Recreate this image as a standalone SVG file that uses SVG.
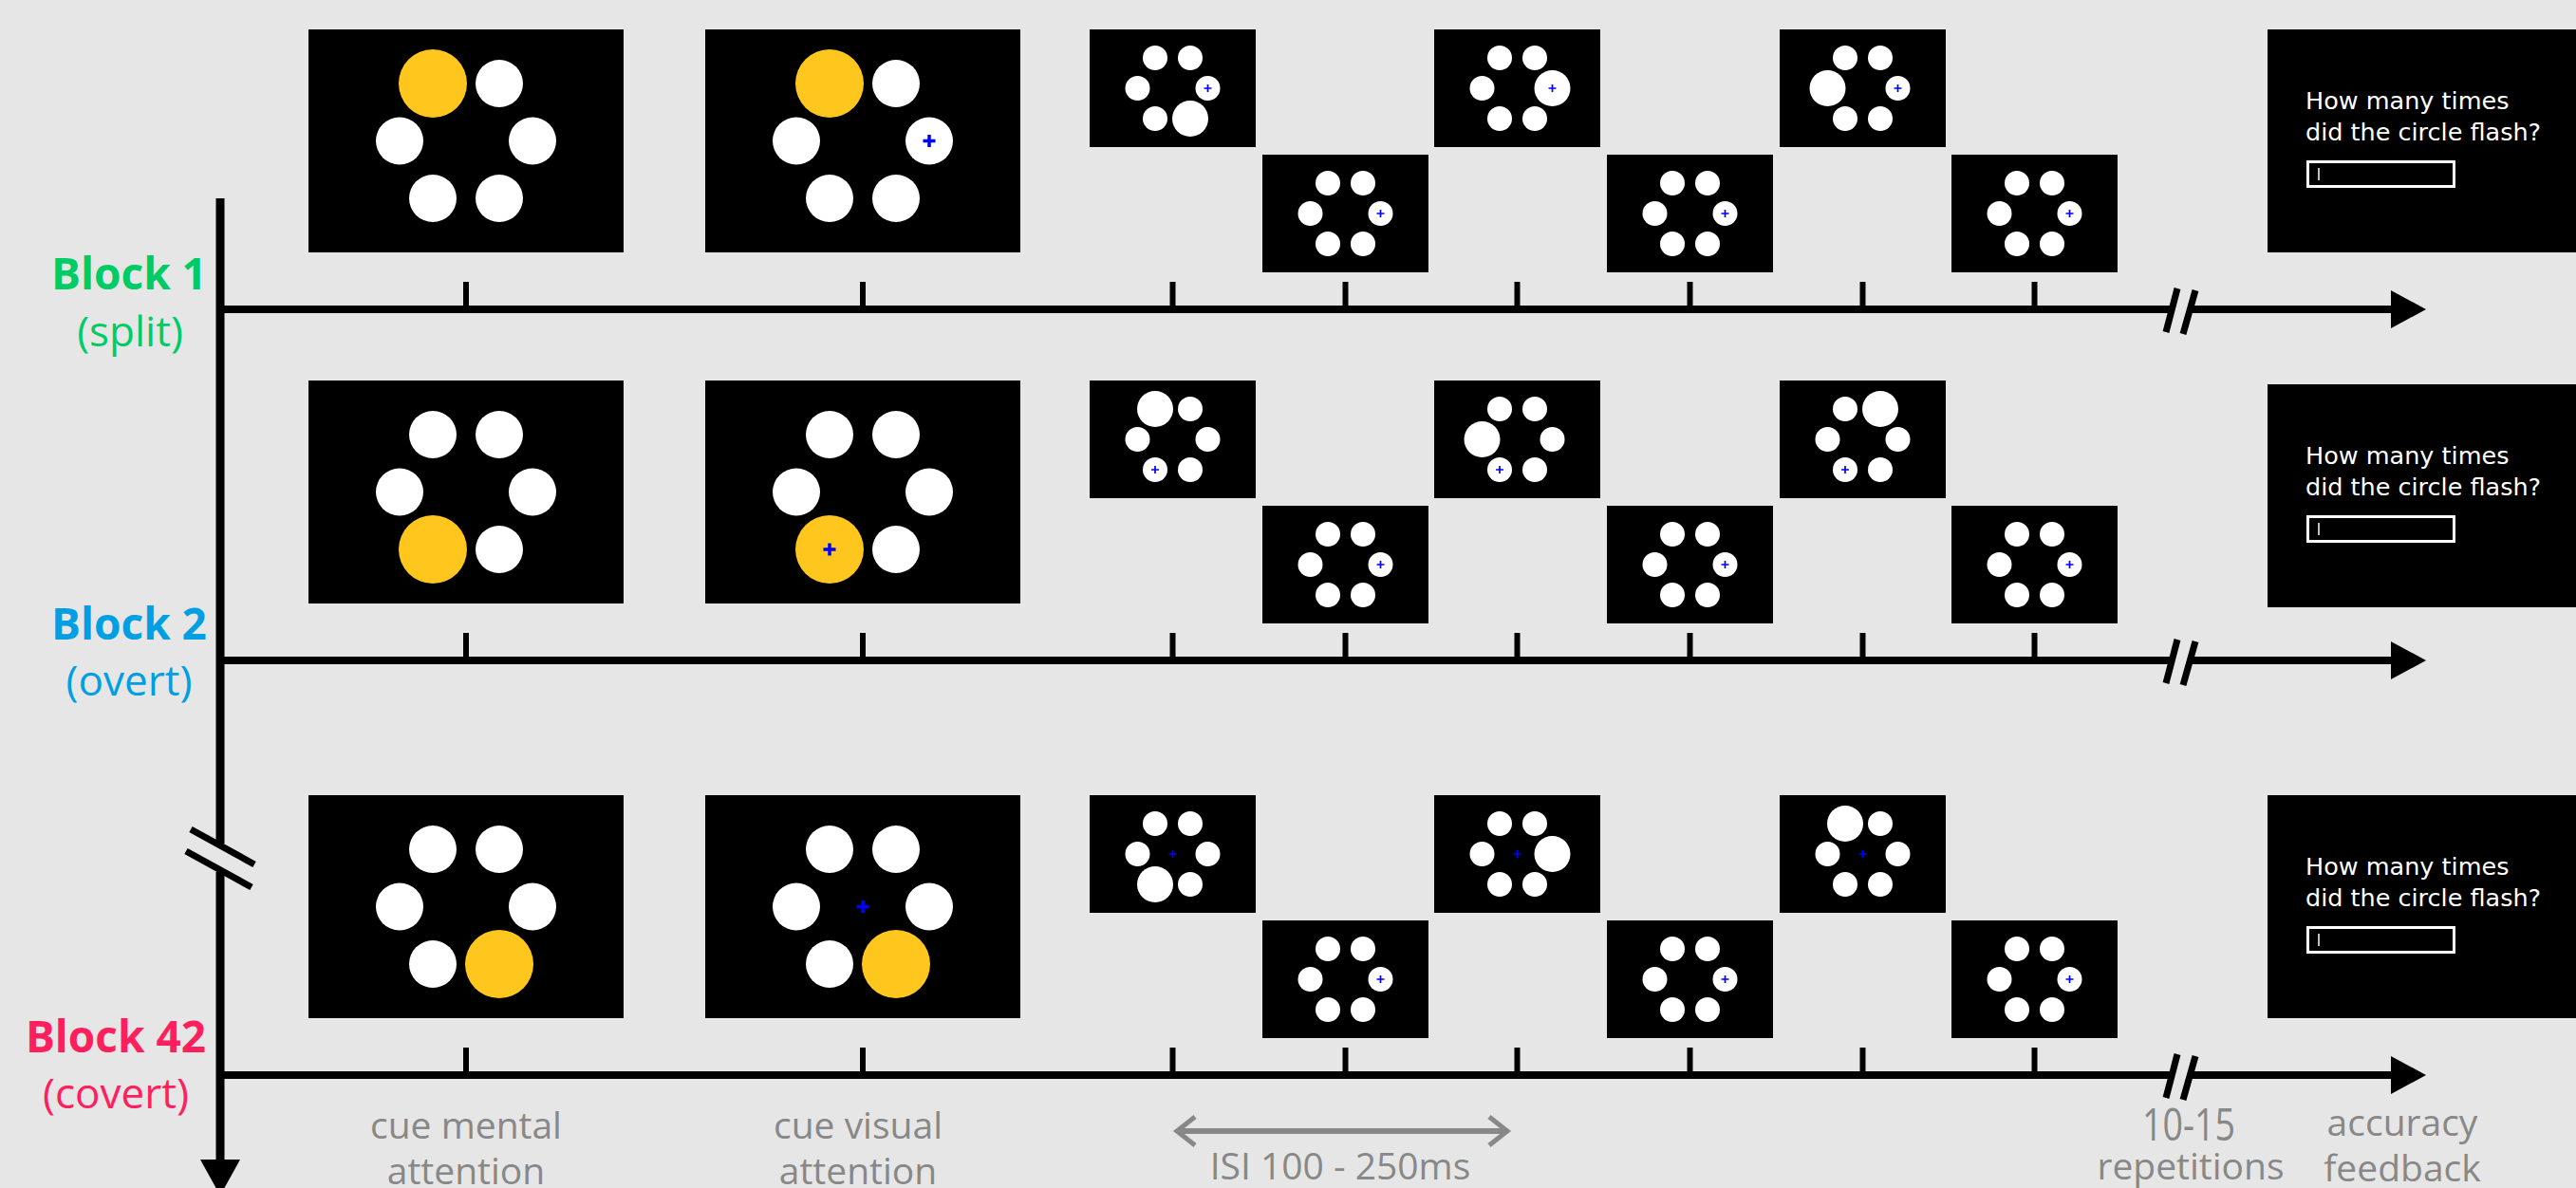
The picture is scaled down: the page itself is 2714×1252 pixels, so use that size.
<svg xmlns="http://www.w3.org/2000/svg" width="2714" height="1252" viewBox="0 0 2714 1252">
<style>
.scr{fill:#000}
.c{fill:#fff}
.y{fill:#ffc61e}
.ax{stroke:#000;stroke-width:8;fill:none}
.tk{stroke:#000;stroke-width:6}
.sl{stroke:#000;stroke-width:7}
.xb{stroke:#0000ff;stroke-width:3.5}
.xs{stroke:#0000ff;stroke-width:1.7}
.q{font-family:"DejaVu Sans",sans-serif;font-size:25.5px;fill:#fff}
.lbl{font-family:"Open Sans",sans-serif;font-size:39px;fill:#888;text-anchor:middle}
.bt{font-family:"Open Sans",sans-serif;font-size:46px;font-weight:bold;text-anchor:middle}
.bs{font-family:"Open Sans",sans-serif;font-size:44px;text-anchor:middle}
</style>
<rect width="2714" height="1252" fill="#e6e6e6"/>

<!-- connectors: axes, ticks, breaks -->
<g id="connectors">
  <line class="ax" x1="232" y1="209" x2="232" y2="889" style="stroke-width:9"/>
  <line class="ax" x1="232" y1="919" x2="232" y2="1226" style="stroke-width:9"/>
  <line class="sl" x1="201" y1="874" x2="268" y2="911"/>
  <line class="sl" x1="196" y1="897" x2="265" y2="935"/>
  <polygon points="211,1222 253,1222 232,1260" fill="#000"/>
  <g id="axis1">
    <line class="ax" x1="228" y1="326" x2="2288" y2="326"/>
    <line class="ax" x1="2307" y1="326" x2="2522" y2="326"/>
    <polygon points="2519,306 2556,326 2519,346" fill="#000"/>
    <line class="sl" x1="2294" y1="304" x2="2282" y2="350"/>
    <line class="sl" x1="2313" y1="306" x2="2300" y2="352"/>
    <g class="tk">
      <line x1="491" y1="297" x2="491" y2="326"/><line x1="909" y1="297" x2="909" y2="326"/>
      <line x1="1235.5" y1="297" x2="1235.5" y2="326"/><line x1="1417.5" y1="297" x2="1417.5" y2="326"/>
      <line x1="1598.5" y1="297" x2="1598.5" y2="326"/><line x1="1780.5" y1="297" x2="1780.5" y2="326"/>
      <line x1="1962.5" y1="297" x2="1962.5" y2="326"/><line x1="2143.5" y1="297" x2="2143.5" y2="326"/>
    </g>
  </g>
  <use href="#axis1" transform="translate(0,370)"/>
  <use href="#axis1" transform="translate(0,807)"/>
  <g stroke="#888" fill="none" stroke-width="6">
    <line x1="1242" y1="1192" x2="1586" y2="1192"/>
    <polyline points="1259,1177 1240,1192 1259,1207" stroke-width="5"/>
    <polyline points="1569,1177 1588,1192 1569,1207" stroke-width="5"/>
  </g>
</g>

<!-- Row labels -->
<g id="label-block1"><text class="bt" x="136" y="305" fill="#00cc66">Block 1</text><text class="bs" x="137" y="365" fill="#00cc66">(split)</text></g>
<g id="label-block2"><text class="bt" x="136" y="674" fill="#009fe3">Block 2</text><text class="bs" x="136" y="733" fill="#009fe3">(overt)</text></g>
<g id="label-block42"><text class="bt" x="122" y="1109" fill="#ff1f5f">Block 42</text><text class="bs" x="122" y="1168" fill="#ff1f5f">(covert)</text></g>

<!-- Row 1 -->
<g id="row1">
  <g id="r1-cue-mental">
    <rect class="scr" x="325" y="31" width="332" height="235"/>
    <circle class="y" cx="456" cy="88" r="36"/><circle class="c" cx="526" cy="88" r="25"/>
    <circle class="c" cx="421" cy="148.5" r="25"/><circle class="c" cx="561" cy="148.5" r="25"/>
    <circle class="c" cx="456" cy="209" r="25"/><circle class="c" cx="526" cy="209" r="25"/>
  </g>
  <g id="r1-cue-visual">
    <rect class="scr" x="743" y="31" width="332" height="235"/>
    <circle class="y" cx="874" cy="88" r="36"/><circle class="c" cx="944" cy="88" r="25"/>
    <circle class="c" cx="839" cy="148.5" r="25"/><circle class="c" cx="979" cy="148.5" r="25"/>
    <circle class="c" cx="874" cy="209" r="25"/><circle class="c" cx="944" cy="209" r="25"/>
    <path class="xb" d="M972.5 148.5h13M979 142v13"/>
  </g>
  <g id="r1-s1">
    <rect class="scr" x="1148" y="31" width="175" height="124"/>
    <circle class="c" cx="1217" cy="61" r="13"/><circle class="c" cx="1254" cy="61" r="13"/>
    <circle class="c" cx="1198.5" cy="93" r="13"/><circle class="c" cx="1272.5" cy="93" r="13"/>
    <circle class="c" cx="1217" cy="125" r="13"/><circle class="c" cx="1254" cy="125" r="19"/>
    <path class="xs" d="M1268.5 93h8M1272.5 89v8"/>
  </g>
  <g id="r1-s2">
    <rect class="scr" x="1330" y="163" width="175" height="124"/>
    <circle class="c" cx="1399" cy="193" r="13"/><circle class="c" cx="1436" cy="193" r="13"/>
    <circle class="c" cx="1380.5" cy="225" r="13"/><circle class="c" cx="1454.5" cy="225" r="13"/>
    <circle class="c" cx="1399" cy="257" r="13"/><circle class="c" cx="1436" cy="257" r="13"/>
    <path class="xs" d="M1450.5 225h8M1454.5 221v8"/>
  </g>
  <g id="r1-s3">
    <rect class="scr" x="1511" y="31" width="175" height="124"/>
    <circle class="c" cx="1580" cy="61" r="13"/><circle class="c" cx="1617" cy="61" r="13"/>
    <circle class="c" cx="1561.5" cy="93" r="13"/><circle class="c" cx="1635.5" cy="93" r="19"/>
    <circle class="c" cx="1580" cy="125" r="13"/><circle class="c" cx="1617" cy="125" r="13"/>
    <path class="xs" d="M1631.5 93h8M1635.5 89v8"/>
  </g>
  <g id="r1-s4">
    <rect class="scr" x="1693" y="163" width="175" height="124"/>
    <circle class="c" cx="1762" cy="193" r="13"/><circle class="c" cx="1799" cy="193" r="13"/>
    <circle class="c" cx="1743.5" cy="225" r="13"/><circle class="c" cx="1817.5" cy="225" r="13"/>
    <circle class="c" cx="1762" cy="257" r="13"/><circle class="c" cx="1799" cy="257" r="13"/>
    <path class="xs" d="M1813.5 225h8M1817.5 221v8"/>
  </g>
  <g id="r1-s5">
    <rect class="scr" x="1875" y="31" width="175" height="124"/>
    <circle class="c" cx="1944" cy="61" r="13"/><circle class="c" cx="1981" cy="61" r="13"/>
    <circle class="c" cx="1925.5" cy="93" r="19"/><circle class="c" cx="1999.5" cy="93" r="13"/>
    <circle class="c" cx="1944" cy="125" r="13"/><circle class="c" cx="1981" cy="125" r="13"/>
    <path class="xs" d="M1995.5 93h8M1999.5 89v8"/>
  </g>
  <g id="r1-s6">
    <rect class="scr" x="2056" y="163" width="175" height="124"/>
    <circle class="c" cx="2125" cy="193" r="13"/><circle class="c" cx="2162" cy="193" r="13"/>
    <circle class="c" cx="2106.5" cy="225" r="13"/><circle class="c" cx="2180.5" cy="225" r="13"/>
    <circle class="c" cx="2125" cy="257" r="13"/><circle class="c" cx="2162" cy="257" r="13"/>
    <path class="xs" d="M2176.5 225h8M2180.5 221v8"/>
  </g>
  <g id="r1-feedback">
    <rect class="scr" x="2389" y="31" width="340" height="235"/>
    <text class="q" x="2429" y="115">How many times</text>
    <text class="q" x="2429" y="148">did the circle flash?</text>
    <rect x="2431.5" y="170.5" width="154" height="26" fill="none" stroke="#fff" stroke-width="3"/>
    <line x1="2443" y1="177" x2="2443" y2="190" stroke="#fff" stroke-width="1.5"/>
  </g>
</g>

<!-- Row 2 -->
<g id="row2" transform="translate(0,370)">
  <g id="r2-cue-mental">
    <rect class="scr" x="325" y="31" width="332" height="235"/>
    <circle class="c" cx="456" cy="88" r="25"/><circle class="c" cx="526" cy="88" r="25"/>
    <circle class="c" cx="421" cy="148.5" r="25"/><circle class="c" cx="561" cy="148.5" r="25"/>
    <circle class="y" cx="456" cy="209" r="36"/><circle class="c" cx="526" cy="209" r="25"/>
  </g>
  <g id="r2-cue-visual">
    <rect class="scr" x="743" y="31" width="332" height="235"/>
    <circle class="c" cx="874" cy="88" r="25"/><circle class="c" cx="944" cy="88" r="25"/>
    <circle class="c" cx="839" cy="148.5" r="25"/><circle class="c" cx="979" cy="148.5" r="25"/>
    <circle class="y" cx="874" cy="209" r="36"/><circle class="c" cx="944" cy="209" r="25"/>
    <path class="xb" d="M867.5 209h13M874 202.5v13"/>
  </g>
  <g id="r2-s1">
    <rect class="scr" x="1148" y="31" width="175" height="124"/>
    <circle class="c" cx="1217" cy="61" r="19"/><circle class="c" cx="1254" cy="61" r="13"/>
    <circle class="c" cx="1198.5" cy="93" r="13"/><circle class="c" cx="1272.5" cy="93" r="13"/>
    <circle class="c" cx="1217" cy="125" r="13"/><circle class="c" cx="1254" cy="125" r="13"/>
    <path class="xs" d="M1213 125h8M1217 121v8"/>
  </g>
  <g id="r2-s2">
    <rect class="scr" x="1330" y="163" width="175" height="124"/>
    <circle class="c" cx="1399" cy="193" r="13"/><circle class="c" cx="1436" cy="193" r="13"/>
    <circle class="c" cx="1380.5" cy="225" r="13"/><circle class="c" cx="1454.5" cy="225" r="13"/>
    <circle class="c" cx="1399" cy="257" r="13"/><circle class="c" cx="1436" cy="257" r="13"/>
    <path class="xs" d="M1450.5 225h8M1454.5 221v8"/>
  </g>
  <g id="r2-s3">
    <rect class="scr" x="1511" y="31" width="175" height="124"/>
    <circle class="c" cx="1580" cy="61" r="13"/><circle class="c" cx="1617" cy="61" r="13"/>
    <circle class="c" cx="1561.5" cy="93" r="19"/><circle class="c" cx="1635.5" cy="93" r="13"/>
    <circle class="c" cx="1580" cy="125" r="13"/><circle class="c" cx="1617" cy="125" r="13"/>
    <path class="xs" d="M1576 125h8M1580 121v8"/>
  </g>
  <g id="r2-s4">
    <rect class="scr" x="1693" y="163" width="175" height="124"/>
    <circle class="c" cx="1762" cy="193" r="13"/><circle class="c" cx="1799" cy="193" r="13"/>
    <circle class="c" cx="1743.5" cy="225" r="13"/><circle class="c" cx="1817.5" cy="225" r="13"/>
    <circle class="c" cx="1762" cy="257" r="13"/><circle class="c" cx="1799" cy="257" r="13"/>
    <path class="xs" d="M1813.5 225h8M1817.5 221v8"/>
  </g>
  <g id="r2-s5">
    <rect class="scr" x="1875" y="31" width="175" height="124"/>
    <circle class="c" cx="1944" cy="61" r="13"/><circle class="c" cx="1981" cy="61" r="19"/>
    <circle class="c" cx="1925.5" cy="93" r="13"/><circle class="c" cx="1999.5" cy="93" r="13"/>
    <circle class="c" cx="1944" cy="125" r="13"/><circle class="c" cx="1981" cy="125" r="13"/>
    <path class="xs" d="M1940 125h8M1944 121v8"/>
  </g>
  <g id="r2-s6">
    <rect class="scr" x="2056" y="163" width="175" height="124"/>
    <circle class="c" cx="2125" cy="193" r="13"/><circle class="c" cx="2162" cy="193" r="13"/>
    <circle class="c" cx="2106.5" cy="225" r="13"/><circle class="c" cx="2180.5" cy="225" r="13"/>
    <circle class="c" cx="2125" cy="257" r="13"/><circle class="c" cx="2162" cy="257" r="13"/>
    <path class="xs" d="M2176.5 225h8M2180.5 221v8"/>
  </g>
  <g id="r2-feedback" transform="translate(0,4)">
    <rect class="scr" x="2389" y="31" width="340" height="235"/>
    <text class="q" x="2429" y="115">How many times</text>
    <text class="q" x="2429" y="148">did the circle flash?</text>
    <rect x="2431.5" y="170.5" width="154" height="26" fill="none" stroke="#fff" stroke-width="3"/>
    <line x1="2443" y1="177" x2="2443" y2="190" stroke="#fff" stroke-width="1.5"/>
  </g>
</g>

<!-- Row 3 -->
<g id="row3" transform="translate(0,807)">
  <g id="r3-cue-mental">
    <rect class="scr" x="325" y="31" width="332" height="235"/>
    <circle class="c" cx="456" cy="88" r="25"/><circle class="c" cx="526" cy="88" r="25"/>
    <circle class="c" cx="421" cy="148.5" r="25"/><circle class="c" cx="561" cy="148.5" r="25"/>
    <circle class="c" cx="456" cy="209" r="25"/><circle class="y" cx="526" cy="209" r="36"/>
  </g>
  <g id="r3-cue-visual">
    <rect class="scr" x="743" y="31" width="332" height="235"/>
    <circle class="c" cx="874" cy="88" r="25"/><circle class="c" cx="944" cy="88" r="25"/>
    <circle class="c" cx="839" cy="148.5" r="25"/><circle class="c" cx="979" cy="148.5" r="25"/>
    <circle class="c" cx="874" cy="209" r="25"/><circle class="y" cx="944" cy="209" r="36"/>
    <path class="xb" d="M902.5 148.5h13M909 142v13"/>
  </g>
  <g id="r3-s1">
    <rect class="scr" x="1148" y="31" width="175" height="124"/>
    <circle class="c" cx="1217" cy="61" r="13"/><circle class="c" cx="1254" cy="61" r="13"/>
    <circle class="c" cx="1198.5" cy="93" r="13"/><circle class="c" cx="1272.5" cy="93" r="13"/>
    <circle class="c" cx="1217" cy="125" r="19"/><circle class="c" cx="1254" cy="125" r="13"/>
    <path class="xs" d="M1231.5 93h8M1235.5 89v8"/>
  </g>
  <g id="r3-s2">
    <rect class="scr" x="1330" y="163" width="175" height="124"/>
    <circle class="c" cx="1399" cy="193" r="13"/><circle class="c" cx="1436" cy="193" r="13"/>
    <circle class="c" cx="1380.5" cy="225" r="13"/><circle class="c" cx="1454.5" cy="225" r="13"/>
    <circle class="c" cx="1399" cy="257" r="13"/><circle class="c" cx="1436" cy="257" r="13"/>
    <path class="xs" d="M1450.5 225h8M1454.5 221v8"/>
  </g>
  <g id="r3-s3">
    <rect class="scr" x="1511" y="31" width="175" height="124"/>
    <circle class="c" cx="1580" cy="61" r="13"/><circle class="c" cx="1617" cy="61" r="13"/>
    <circle class="c" cx="1561.5" cy="93" r="13"/><circle class="c" cx="1635.5" cy="93" r="19"/>
    <circle class="c" cx="1580" cy="125" r="13"/><circle class="c" cx="1617" cy="125" r="13"/>
    <path class="xs" d="M1594.5 93h8M1598.5 89v8"/>
  </g>
  <g id="r3-s4">
    <rect class="scr" x="1693" y="163" width="175" height="124"/>
    <circle class="c" cx="1762" cy="193" r="13"/><circle class="c" cx="1799" cy="193" r="13"/>
    <circle class="c" cx="1743.5" cy="225" r="13"/><circle class="c" cx="1817.5" cy="225" r="13"/>
    <circle class="c" cx="1762" cy="257" r="13"/><circle class="c" cx="1799" cy="257" r="13"/>
    <path class="xs" d="M1813.5 225h8M1817.5 221v8"/>
  </g>
  <g id="r3-s5">
    <rect class="scr" x="1875" y="31" width="175" height="124"/>
    <circle class="c" cx="1944" cy="61" r="19"/><circle class="c" cx="1981" cy="61" r="13"/>
    <circle class="c" cx="1925.5" cy="93" r="13"/><circle class="c" cx="1999.5" cy="93" r="13"/>
    <circle class="c" cx="1944" cy="125" r="13"/><circle class="c" cx="1981" cy="125" r="13"/>
    <path class="xs" d="M1958.5 93h8M1962.5 89v8"/>
  </g>
  <g id="r3-s6">
    <rect class="scr" x="2056" y="163" width="175" height="124"/>
    <circle class="c" cx="2125" cy="193" r="13"/><circle class="c" cx="2162" cy="193" r="13"/>
    <circle class="c" cx="2106.5" cy="225" r="13"/><circle class="c" cx="2180.5" cy="225" r="13"/>
    <circle class="c" cx="2125" cy="257" r="13"/><circle class="c" cx="2162" cy="257" r="13"/>
    <path class="xs" d="M2176.5 225h8M2180.5 221v8"/>
  </g>
  <g id="r3-feedback">
    <rect class="scr" x="2389" y="31" width="340" height="235"/>
    <text class="q" x="2429" y="115">How many times</text>
    <text class="q" x="2429" y="148">did the circle flash?</text>
    <rect x="2431.5" y="170.5" width="154" height="26" fill="none" stroke="#fff" stroke-width="3"/>
    <line x1="2443" y1="177" x2="2443" y2="190" stroke="#fff" stroke-width="1.5"/>
  </g>
</g>

<!-- Bottom labels -->
<g id="bottom-labels">
  <text class="lbl" x="491" y="1200">cue mental</text>
  <text class="lbl" x="491" y="1248">attention</text>
  <text class="lbl" x="904" y="1200">cue visual</text>
  <text class="lbl" x="904" y="1248">attention</text>
  <text class="lbl" x="1412" y="1243">ISI 100 - 250ms</text>
  <text class="lbl" x="2306" y="1202" style="font-size:47px" textLength="98" lengthAdjust="spacingAndGlyphs">10-15</text>
  <text class="lbl" x="2308" y="1243">repetitions</text>
  <text class="lbl" x="2531" y="1197">accuracy</text>
  <text class="lbl" x="2531" y="1245">feedback</text>
</g>
</svg>
